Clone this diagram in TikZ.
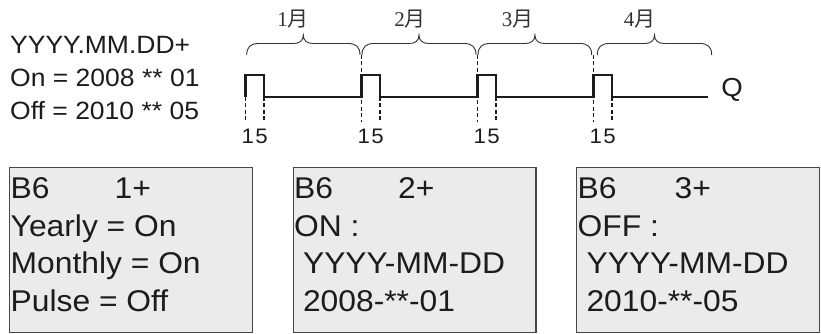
\documentclass[tikz,border=0pt]{standalone}
\usepackage{fontspec}
\setmainfont{Liberation Sans}[FakeStretch=1.06]
\newfontfamily\cjkfont{Noto Sans CJK SC}
\newfontfamily\monthnum{Liberation Serif}
\definecolor{screengray}{HTML}{EBEBEC}
\definecolor{framegray}{HTML}{474747}
\definecolor{inkgray}{HTML}{1C1C1C}
\definecolor{bracegray}{HTML}{333333}

\begin{document}
\begin{tikzpicture}[x=1pt,y=-1pt,text=inkgray,
  wave/.style={inkgray,line width=2.2pt,line join=miter},
  tick/.style={inkgray,line width=1.2pt,dash pattern=on 4pt off 2.5pt},
  monthbrace/.style={bracegray,line width=.9pt},
  monthlabel/.style={text=bracegray,inner sep=0pt,font=\fontsize{21}{24}\selectfont},
  param/.style={anchor=base west,inner sep=0pt,font=\fontsize{25}{30}\selectfont},
  daylabel/.style={anchor=base,inner sep=0pt,font=\fontsize{21}{24}\selectfont},
  screen/.style={draw=framegray,fill=screengray,line width=1.1pt,anchor=north west,
    minimum width=242.7pt,minimum height=165pt,inner sep=0pt},
  screenline/.style={anchor=base west,inner sep=0pt,font=\fontsize{30}{36}\selectfont}]
\useasboundingbox (0,0) rectangle (821,334);
% parameter text
\node[param] (fmt) at (10,53.3) {YYYY.MM.DD+};
\node[param] (on) at (10,86.7) {On = 2008 ** 01};
\node[param] (off) at (10,120) {Off = 2010 ** 05};
% months
\draw[monthbrace] (246.7,55) .. controls (246.7,47) and (250.7,43.5) .. (258.7,43.5) -- (293.3,43.5)
  .. controls (299.3,43.5) and (303.3,41) .. (303.3,35) .. controls (303.3,41) and (307.3,43.5) .. (313.3,43.5)
  -- (348,43.5) .. controls (356,43.5) and (360,47) .. (360,55);
\node[monthlabel] (m1) at (293,19) {{\monthnum 1}{\cjkfont 月}};
\draw[monthbrace] (362,55) .. controls (362,47) and (366,43.5) .. (374,43.5) -- (409,43.5)
  .. controls (415,43.5) and (419,41) .. (419,35) .. controls (419,41) and (423,43.5) .. (429,43.5)
  -- (464,43.5) .. controls (472,43.5) and (476,47) .. (476,55);
\node[monthlabel] (m2) at (410,19) {{\monthnum 2}{\cjkfont 月}};
\draw[monthbrace] (478,55) .. controls (478,47) and (482,43.5) .. (490,43.5) -- (524.9,43.5)
  .. controls (530.9,43.5) and (534.9,41) .. (534.9,35) .. controls (534.9,41) and (538.9,43.5) .. (544.9,43.5)
  -- (579.7,43.5) .. controls (587.7,43.5) and (591.7,47) .. (591.7,55);
\node[monthlabel] (m3) at (517.5,19) {{\monthnum 3}{\cjkfont 月}};
\draw[monthbrace] (597.3,55) .. controls (597.3,47) and (601.3,43.5) .. (609.3,43.5) -- (644.5,43.5)
  .. controls (650.5,43.5) and (654.5,41) .. (654.5,35) .. controls (654.5,41) and (658.5,43.5) .. (664.5,43.5)
  -- (699.7,43.5) .. controls (707.7,43.5) and (711.7,47) .. (711.7,55);
\node[monthlabel] (m4) at (639.5,19) {{\monthnum 4}{\cjkfont 月}};
% output Q
\draw[wave] (245.5,97) -- (245.5,75) -- (264,75) -- (264,97) -- (361.5,97) -- (361.5,75) -- (380,75) -- (380,97)
  -- (477.5,97) -- (477.5,75) -- (496,75) -- (496,97) -- (593.5,97) -- (593.5,75) -- (612,75) -- (612,97) -- (707.5,97);
\node[inner sep=0pt,font=\fontsize{26}{30}\selectfont] (q) at (732,90) {Q};
\draw[tick] (245.5,97) -- (245.5,122);
\draw[tick] (264,97) -- (264,122);
\node[daylabel] (d1) at (254.75,143.3) {1\hspace{1.5pt}5};
\draw[tick] (361.5,55) -- (361.5,122);
\draw[tick] (380,97) -- (380,122);
\node[daylabel] (d2) at (370.75,143.3) {1\hspace{1.5pt}5};
\draw[tick] (477.5,55) -- (477.5,122);
\draw[tick] (496,97) -- (496,122);
\node[daylabel] (d3) at (486.75,143.3) {1\hspace{1.5pt}5};
\draw[tick] (593.5,55) -- (593.5,122);
\draw[tick] (612,97) -- (612,122);
\node[daylabel] (d4) at (602.75,143.3) {1\hspace{1.5pt}5};
% screens
\node[screen] (s1) at (9.3,167) {};
\node[screenline] (s1a) at (10.5,198.3) {\makebox[104pt][l]{B6}1+};
\node[screenline] (s1b) at (10.5,236.1) {Yearly = On};
\node[screenline] (s1c) at (10.5,273.9) {Monthly = On};
\node[screenline] (s1d) at (10.5,311.7) {Pulse = Off};
\node[screen] (s2) at (292.7,167) {};
\node[screenline] (s2a) at (294,198.3) {\makebox[104pt][l]{B6}2+};
\node[screenline] (s2b) at (294,236.1) {ON :};
\node[screenline] (s2c) at (294,273.9) {\ YYYY-MM-DD};
\node[screenline] (s2d) at (294,311.7) {\ 2008-**-01};
\node[screen] (s3) at (576.3,167) {};
\node[screenline] (s3a) at (577.5,198.3) {\makebox[97pt][l]{B6}3+};
\node[screenline] (s3b) at (577.5,236.1) {OFF :};
\node[screenline] (s3c) at (577.5,273.9) {\ YYYY-MM-DD};
\node[screenline] (s3d) at (577.5,311.7) {\ 2010-**-05};
\end{tikzpicture}
\end{document}
